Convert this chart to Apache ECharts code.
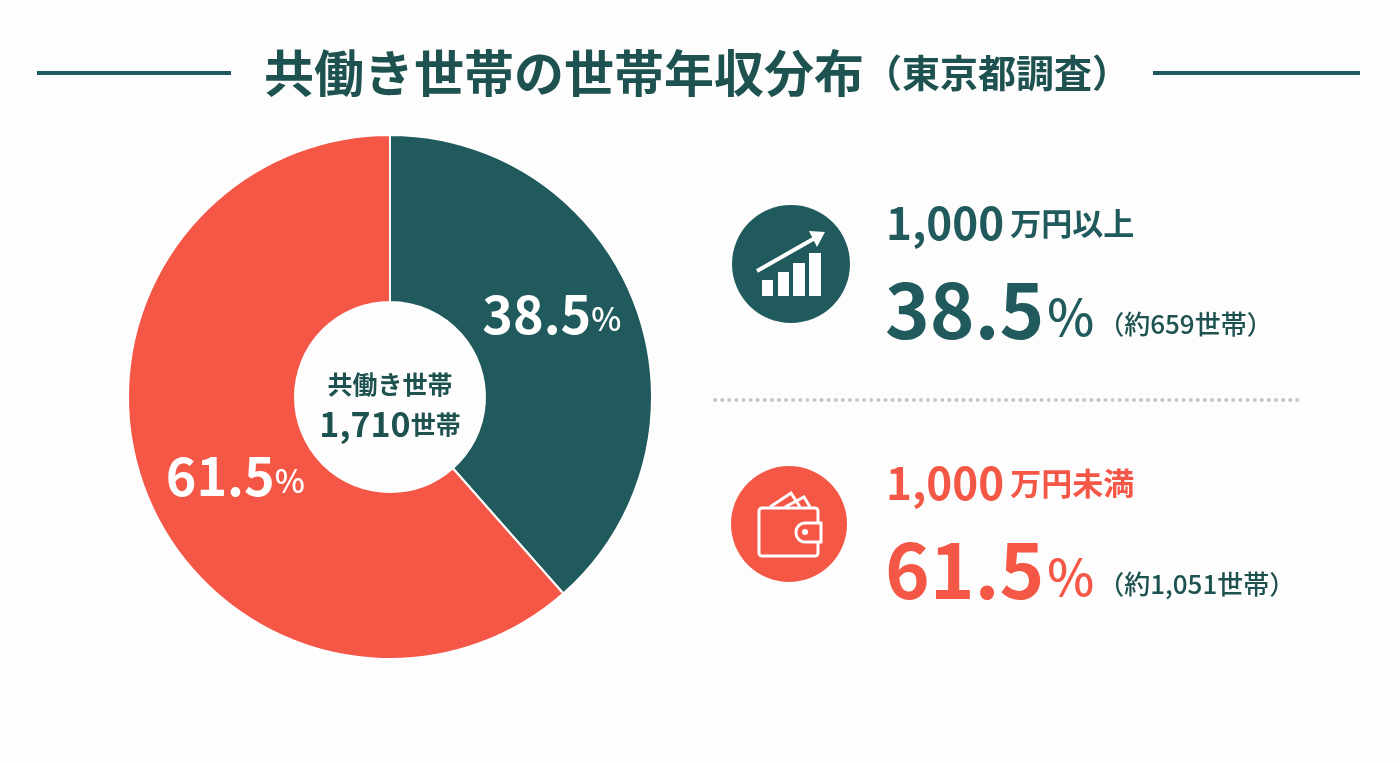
<!DOCTYPE html>
<html lang="ja">
<head>
<meta charset="utf-8">
<title>共働き世帯の世帯年収分布</title>
<script src="https://cdn.jsdelivr.net/npm/echarts@6/dist/echarts.min.js"></script>
<style>
  html, body { margin: 0; padding: 0; background: #fdfdfd; }
  #main { width: 1400px; height: 763px; }
</style>
</head>
<body>
<div id="main"></div>
<script>
const categories = ["1,000万円以上", "1,000万円未満"];
const shares = [38.5, 61.5];
const households = ["約659世帯", "約1,051世帯"];
const totalLabel = ["共働き世帯", "1,710", "世帯"];

const GREEN = "#215a5c";
const INK = "#1e5250";
const RED = "#f55747";
const FONT = '"Noto Sans CJK JP", "Noto Sans", sans-serif';

const chart = echarts.init(document.getElementById("main"));

function txt(x, y, text, rich, extra) {
  return {
    type: "text", x: x, y: y,
    style: Object.assign({ text: text, rich: rich, fontFamily: FONT, verticalAlign: "middle" }, extra)
  };
}

// graphic の rich は fill で色を指定する
function run(size, color, more) {
  return Object.assign({ fontSize: size, fontWeight: 700, fill: color, fontFamily: FONT }, more);
}

// 右側の大きい数字と見出し
function block(i, y, color) {
  const name = categories[i].match(/^([\d,]+)(.*)$/);
  return [
    txt(886, y - 2, `{a|${name[1]}}{b|${name[2]}}`, {
      a: run(44, color),
      b: run(31, color, { padding: [0, 0, 0, 6] })
    }),
    txt(885, y + 85, `{a|${shares[i].toFixed(1)}}{b|%}{c|（${households[i]}）}`, {
      a: run(76, color),
      b: run(50, color, { fontWeight: 500, padding: [14, 0, 0, 3] }),
      c: run(26, INK, { fontWeight: 500, padding: [28, 0, 0, 4] })
    })
  ];
}

const white = { stroke: "#fff", lineWidth: 3, fill: "none" };

const chartIcon = [
  { type: "circle", shape: { cx: 791, cy: 264, r: 59 }, style: { fill: GREEN } },
  { type: "rect", shape: { x: 762, y: 280, width: 11, height: 16 }, style: { fill: "#fff" } },
  { type: "rect", shape: { x: 778, y: 272, width: 11, height: 24 }, style: { fill: "#fff" } },
  { type: "rect", shape: { x: 793, y: 263, width: 12, height: 33 }, style: { fill: "#fff" } },
  { type: "rect", shape: { x: 809, y: 253, width: 12, height: 43 }, style: { fill: "#fff" } },
  { type: "line", shape: { x1: 757, y1: 271, x2: 815, y2: 238 }, style: { stroke: "#fff", lineWidth: 4 } },
  { type: "polygon", shape: { points: [[809, 231], [825, 232], [817, 247]] }, style: { fill: "#fff" } }
];

const walletIcon = [
  { type: "circle", shape: { cx: 789, cy: 524, r: 58 }, style: { fill: RED } },
  { type: "polyline", shape: { points: [[770, 507], [791, 493], [800, 507]] }, style: white },
  { type: "polyline", shape: { points: [[785, 507], [804, 497], [810, 507]] }, style: white },
  { type: "rect", shape: { x: 759, y: 508, width: 59, height: 48, r: 3 }, style: white },
  { type: "rect", shape: { x: 796, y: 523, width: 25, height: 19, r: [9, 0, 0, 9] }, style: { stroke: "#fff", lineWidth: 3, fill: RED } },
  { type: "circle", shape: { cx: 805, cy: 532, r: 3 }, style: { fill: "#fff" } }
];

// ラベル位置の微調整
const labelShift = [[-8, -19], [15, 15]];

const option = {
  backgroundColor: "#fdfdfd",
  animation: false,
  series: [
    {
      type: "pie",
      center: [390, 397],
      radius: [95, 262],
      startAngle: 90,
      clockwise: true,
      silent: true,
      itemStyle: { borderColor: "#fff", borderWidth: 2 },
      labelLine: { show: false },
      label: {
        position: "inside",
        fontFamily: FONT,
        formatter: p => `{a|${p.value.toFixed(1)}}{b|%}`,
        rich: {
          a: { fontSize: 52, fontWeight: 600, color: "#fff", fontFamily: FONT },
          b: { fontSize: 32, fontWeight: 500, color: "#fff", fontFamily: FONT, padding: [10, 0, 0, 0] }
        }
      },
      labelLayout: p => ({ dx: labelShift[p.dataIndex][0], dy: labelShift[p.dataIndex][1] }),
      data: [
        { name: categories[0], value: shares[0], itemStyle: { color: GREEN } },
        { name: categories[1], value: shares[1], itemStyle: { color: RED } }
      ]
    }
  ],
  graphic: { elements: [
    { type: "line", shape: { x1: 37, y1: 73, x2: 231, y2: 73 }, style: { stroke: GREEN, lineWidth: 4 } },
    { type: "line", shape: { x1: 1153, y1: 73, x2: 1360, y2: 73 }, style: { stroke: GREEN, lineWidth: 4 } },
    txt(264, 73, "{a|共働き世帯の世帯年収分布}{b|（東京都調査）}", {
      a: run(50, INK),
      b: run(38, INK)
    }),
    txt(390, 384, totalLabel[0], {}, { fontSize: 25, fontWeight: 700, fill: INK, textAlign: "center" }),
    txt(390, 424, `{a|${totalLabel[1]}}{b|${totalLabel[2]}}`, {
      a: run(34, INK),
      b: run(25, INK)
    }, { textAlign: "center" }),
    ...chartIcon,
    ...walletIcon,
    ...block(0, 225, GREEN),
    { type: "line", shape: { x1: 715, y1: 400, x2: 1300, y2: 400 },
      style: { stroke: "#c4c8c6", lineWidth: 4, lineDash: [0.1, 7], lineCap: "round" } },
    ...block(1, 485, RED)
  ] }
};

chart.setOption(option);
</script>
</body>
</html>
